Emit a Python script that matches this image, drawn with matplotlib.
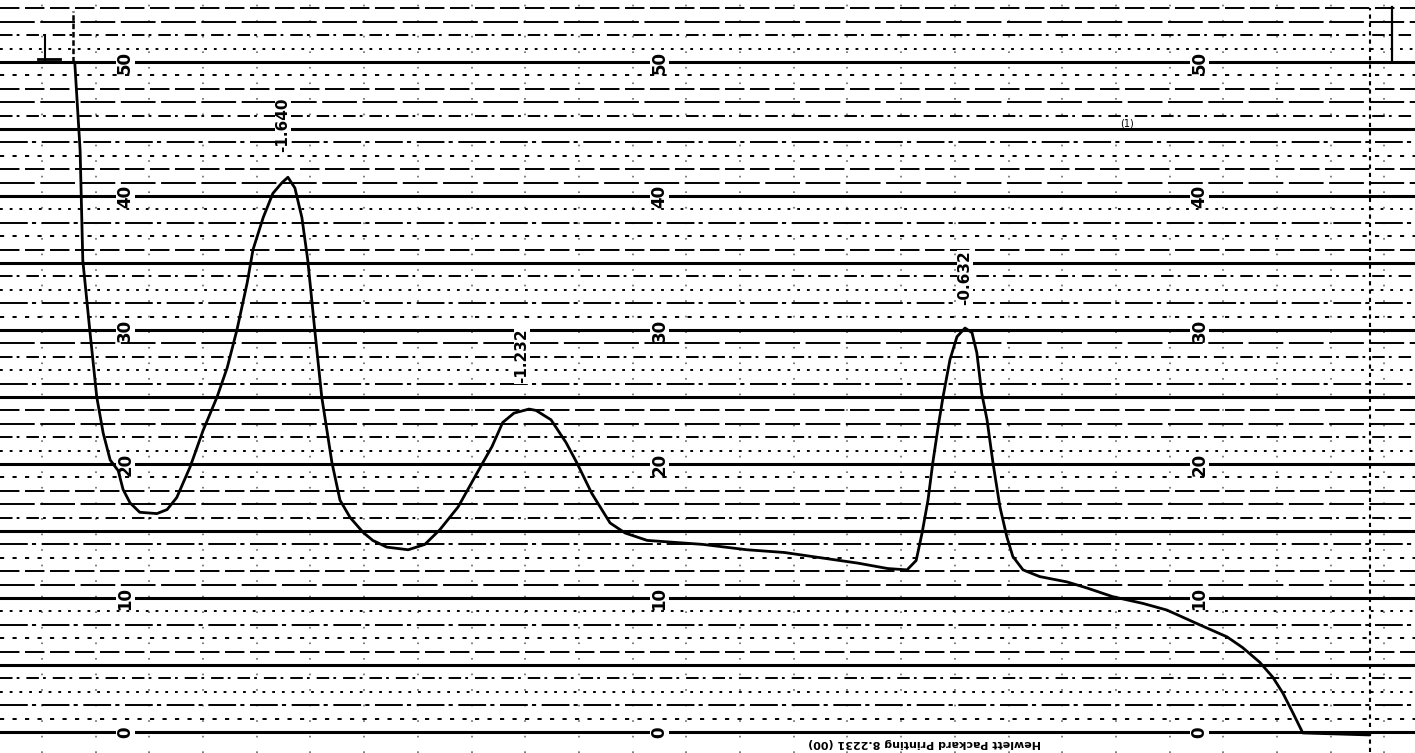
import matplotlib
matplotlib.use('Agg')
import matplotlib.pyplot as plt

plt.rcParams['lines.scale_dashes'] = False

# Trazo del registrador (x en divisiones del papel, y en unidades de la escala 0-50)
curva_x = [0.61, 0.71, 0.76, 0.89, 1.02, 1.14, 1.27, 1.42, 1.51, 1.64, 1.82, 2.14, 2.33,
           2.51, 2.76, 3.00, 3.26, 3.45, 3.63, 3.82, 3.93, 4.12, 4.30, 4.47, 4.58, 4.71,
           4.84, 4.95, 5.08, 5.21, 5.40, 5.55, 5.74, 5.98, 6.16, 6.42, 6.82, 7.13, 7.41,
           7.75, 8.21, 8.38, 8.58, 8.79, 9.07, 9.20, 9.48, 9.76, 9.96, 10.24, 10.58, 10.86,
           11.27, 12.31, 13.13, 13.82, 14.51, 15.20, 15.75, 16.11, 16.28, 16.39, 16.50,
           16.59, 16.69, 16.78, 16.91, 17.04, 17.19, 17.32, 17.41, 17.50, 17.60, 17.71,
           17.84, 17.97, 18.08, 18.27, 18.58, 19.09, 19.46, 19.94, 20.50, 20.95, 21.56,
           22.07, 22.36, 22.68, 22.92, 23.11, 23.30, 23.48, 24.73]
curva_y = [50.0, 43.4, 35.2, 30.0, 25.0, 22.3, 20.3, 19.5, 18.1, 17.1, 16.4, 16.3, 16.6,
           17.5, 19.8, 22.5, 25.0, 27.2, 30.0, 33.5, 36.0, 38.4, 40.2, 41.0, 41.4, 40.6,
           38.4, 35.2, 30.0, 25.0, 20.1, 17.3, 16.0, 14.9, 14.3, 13.8, 13.6, 14.0, 15.1,
           16.8, 20.1, 21.3, 23.1, 23.8, 24.1, 24.0, 23.3, 21.6, 20.1, 17.8, 15.6, 14.85,
           14.3, 14.0, 13.6, 13.4, 13.0, 12.6, 12.2, 12.1, 12.8, 14.85, 17.3,
           20.1, 22.8, 25.0, 27.8, 29.5, 30.15, 29.8, 28.3, 25.3, 23.3, 20.1,
           16.8, 14.55, 13.1, 12.1, 11.6, 11.2, 10.75, 10.1, 9.6, 9.1, 8.0,
           7.1, 6.3, 5.2, 4.1, 2.9, 1.4, -0.07, -0.22]

# Escala del papel
niveles_etiqueta = [0, 10, 20, 30, 40, 50]
columnas_etiqueta = [1.55, 11.5, 21.56]

# Picos marcados a mano
picos_texto = ['-1.640', '-1.232', '-0.632']
picos_x = [4.49, 8.94, 17.19]
picos_y = [45.3, 28.1, 33.9]

fig = plt.figure(figsize=(14.15, 7.53), dpi=100)
ax = fig.add_axes([0, 0, 1, 1])
ax.set_xlim(-0.782, 25.57)
ax.set_ylim(-1.567, 54.63)
ax.axis('off')

# Lineas horizontales: gruesas cada 5, discontinuas cada 1
patrones = [(0, (14, 4)), (0, (3, 6)), (0, (20, 3, 3, 4)), (0, (2, 5)),
            (0, (9, 3, 2, 5)), (0, (25, 4))]
for nivel in range(0, 55):
    if nivel % 5 == 0:
        ax.axhline(nivel, color='black', lw=2.2, zorder=1)
    else:
        ax.axhline(nivel, color='black', lw=1.4, ls=patrones[nivel % len(patrones)], zorder=1)

# Lineas verticales (muy tenues en el escaneo)
for k in range(0, 26):
    ax.axvline(k, color='black', lw=1.2, ls=(0, (1.2, 10)), alpha=0.6, zorder=1)

# Bordes y marcas del papel
ax.plot([24.73, 24.73], [-1.5, 54], color='black', lw=1.5, ls=(0, (3, 3)), zorder=2)
ax.plot([25.14, 25.14], [50, 54.1], color='black', lw=1.6, zorder=2)
ax.plot([0.58, 0.58], [50, 53.8], color='black', lw=1.8, ls=(0, (4, 2)), zorder=2)
ax.plot([0.06, 0.06], [50.1, 52.0], color='black', lw=1.5, zorder=2)
ax.plot([-0.07, 0.34], [50.2, 50.2], color='black', lw=2, zorder=2)

# Trazo
ax.plot(curva_x, curva_y, color='black', lw=2.0, zorder=4,
        solid_joinstyle='round', solid_capstyle='round')

# Etiquetas de la escala, giradas como en el papel
for cx in columnas_etiqueta:
    for nivel in niveles_etiqueta:
        ax.text(cx, nivel, str(nivel), rotation=90, ha='center', va='center',
                fontsize=12, fontweight='bold', color='black', zorder=3,
                bbox=dict(facecolor='white', edgecolor='none', pad=0.5))

# Anotaciones de los picos
for texto, px, py in zip(picos_texto, picos_x, picos_y):
    ax.text(px, py, texto, rotation=90, ha='center', va='center', fontsize=11,
            fontweight='bold', color='black', zorder=3,
            bbox=dict(facecolor='white', edgecolor='none', pad=0.5))

ax.text(20.2, 45.45, '(1)', fontsize=7, ha='center', va='center', zorder=3)

# Texto impreso del papel (al reves)
ax.text(16.44, -0.85, 'Hewlett Packard Printing 8.2231 (00)', rotation=180,
        ha='center', va='center', fontsize=8, fontweight='bold', zorder=3)

plt.savefig('out.png', dpi=100)
